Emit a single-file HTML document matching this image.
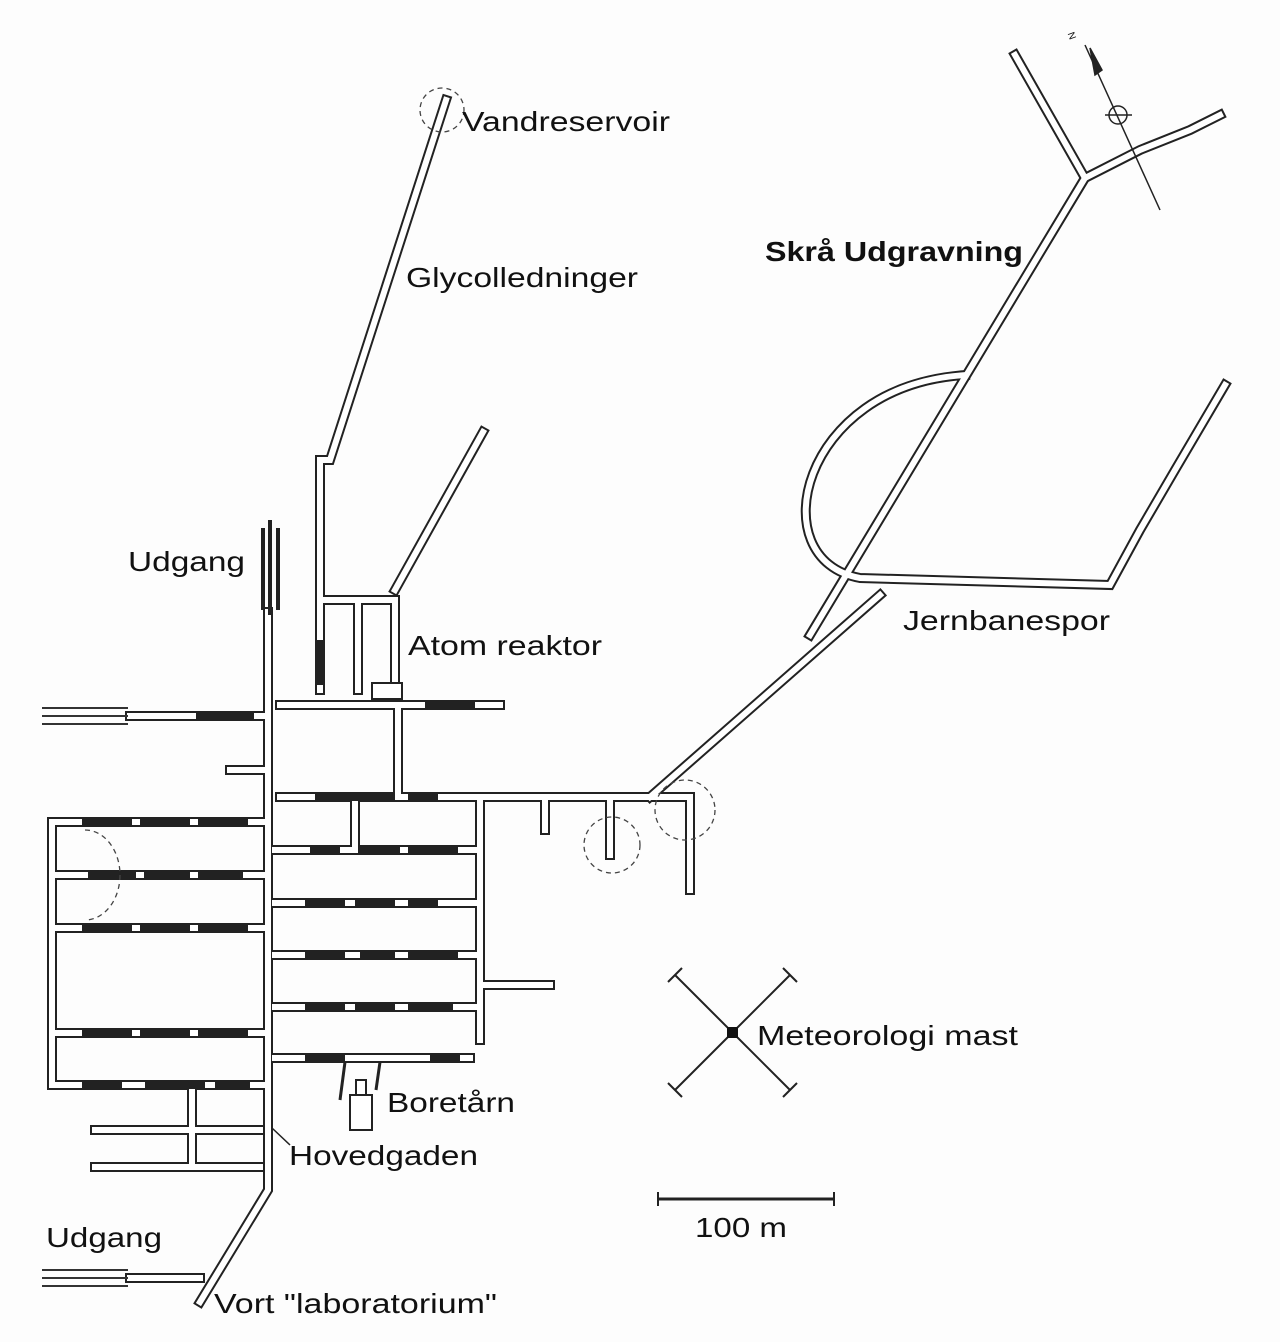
<!DOCTYPE html>
<html><head><meta charset="utf-8"><style>
html,body{margin:0;padding:0;background:#fff;}
svg{display:block}
text{font-family:"Liberation Sans",sans-serif;fill:#111;}
</style></head><body>
<svg width="1280" height="1342" viewBox="0 0 1280 1342" xmlns="http://www.w3.org/2000/svg">
<rect width="1280" height="1342" fill="#fdfdfd"/>
<g fill="none" stroke-linejoin="miter" stroke-linecap="square">
<g id="t" stroke="#222" stroke-width="10">
<polyline points="268,612 268,1190 200,1302"/>
<polyline points="320,690 320,460 330,460 446,100"/>
<polyline points="395,590 483,432"/>
<polyline points="280,705 500,705"/>
<polyline points="280,797 690,797 690,890"/>
<polyline points="398,705 398,797"/>
<polyline points="358,600 358,690"/>
<polyline points="325,600 395,600 395,690"/>
<polyline points="650,797 880,595"/>
<polyline points="810,635 1085,178 1015,55"/>
<polyline points="1085,178 1140,150 1190,130 1220,115"/>
<path d="M965,375 C800,385 760,560 860,578 L1110,585 L1140,530 L1175,470 L1225,385"/>
<polyline points="130,716 262,716"/>
<polyline points="52,822 262,822"/>
<polyline points="52,875 262,875"/>
<polyline points="52,928 262,928"/>
<polyline points="52,1033 262,1033"/>
<polyline points="52,1085 262,1085"/>
<polyline points="52,822 52,1085"/>
<polyline points="95,1130 260,1130"/>
<polyline points="95,1167 260,1167"/>
<polyline points="192,1090 192,1167"/>
<polyline points="130,1278 200,1278"/>
<polyline points="275,850 480,850"/>
<polyline points="275,903 480,903"/>
<polyline points="275,955 480,955"/>
<polyline points="275,1007 480,1007"/>
<polyline points="275,1058 470,1058"/>
<polyline points="480,797 480,1040"/>
<polyline points="480,985 550,985"/>
<polyline points="355,797 355,850"/>
<polyline points="545,797 545,830"/>
<polyline points="610,797 610,855"/>
<polyline points="230,770 262,770"/>
</g>
</g>
<g stroke="#fff" stroke-width="6" fill="none" stroke-linecap="square">
<polyline points="268,612 268,1190 200,1302"/>
<polyline points="320,690 320,460 330,460 446,100"/>
<polyline points="395,590 483,432"/>
<polyline points="280,705 500,705"/>
<polyline points="280,797 690,797 690,890"/>
<polyline points="398,705 398,797"/>
<polyline points="358,600 358,690"/>
<polyline points="325,600 395,600 395,690"/>
<polyline points="650,797 880,595"/>
<polyline points="810,635 1085,178 1015,55"/>
<polyline points="1085,178 1140,150 1190,130 1220,115"/>
<path d="M965,375 C800,385 760,560 860,578 L1110,585 L1140,530 L1175,470 L1225,385"/>
<polyline points="130,716 262,716"/>
<polyline points="52,822 262,822"/>
<polyline points="52,875 262,875"/>
<polyline points="52,928 262,928"/>
<polyline points="52,1033 262,1033"/>
<polyline points="52,1085 262,1085"/>
<polyline points="52,822 52,1085"/>
<polyline points="95,1130 260,1130"/>
<polyline points="95,1167 260,1167"/>
<polyline points="192,1090 192,1167"/>
<polyline points="130,1278 200,1278"/>
<polyline points="275,850 480,850"/>
<polyline points="275,903 480,903"/>
<polyline points="275,955 480,955"/>
<polyline points="275,1007 480,1007"/>
<polyline points="275,1058 470,1058"/>
<polyline points="480,797 480,1040"/>
<polyline points="480,985 550,985"/>
<polyline points="355,797 355,850"/>
<polyline points="545,797 545,830"/>
<polyline points="610,797 610,855"/>
<polyline points="230,770 262,770"/>
</g>
<g fill="#222">
<rect x="196" y="712" width="58" height="8"/>
<rect x="425" y="701" width="50" height="8"/>
<rect x="315" y="793" width="80" height="8"/><rect x="408" y="793" width="30" height="8"/>
<rect x="82" y="818" width="50" height="8"/><rect x="140" y="818" width="50" height="8"/><rect x="198" y="818" width="50" height="8"/>
<rect x="88" y="871" width="48" height="8"/><rect x="144" y="871" width="46" height="8"/><rect x="198" y="871" width="45" height="8"/>
<rect x="82" y="924" width="50" height="8"/><rect x="140" y="924" width="50" height="8"/><rect x="198" y="924" width="50" height="8"/>
<rect x="82" y="1029" width="50" height="8"/><rect x="140" y="1029" width="50" height="8"/><rect x="198" y="1029" width="50" height="8"/>
<rect x="82" y="1081" width="40" height="8"/><rect x="145" y="1081" width="60" height="8"/><rect x="215" y="1081" width="35" height="8"/>
<rect x="310" y="846" width="30" height="8"/><rect x="358" y="846" width="42" height="8"/><rect x="408" y="846" width="50" height="8"/>
<rect x="305" y="899" width="40" height="8"/><rect x="355" y="899" width="40" height="8"/><rect x="408" y="899" width="30" height="8"/>
<rect x="305" y="951" width="40" height="8"/><rect x="360" y="951" width="35" height="8"/><rect x="408" y="951" width="50" height="8"/>
<rect x="305" y="1003" width="40" height="8"/><rect x="355" y="1003" width="40" height="8"/><rect x="408" y="1003" width="45" height="8"/>
<rect x="305" y="1054" width="40" height="8"/><rect x="430" y="1054" width="30" height="8"/>
<rect x="316" y="640" width="8" height="45"/>
<rect x="261" y="528" width="4" height="82"/><rect x="268" y="520" width="4" height="95"/><rect x="276" y="528" width="4" height="82"/>
</g>
<g stroke="#333" stroke-width="2">
<line x1="42" y1="708" x2="128" y2="708"/><line x1="42" y1="716" x2="128" y2="716"/><line x1="42" y1="724" x2="128" y2="724"/>
<line x1="42" y1="1270" x2="128" y2="1270"/><line x1="42" y1="1278" x2="128" y2="1278"/><line x1="42" y1="1286" x2="128" y2="1286"/>
</g>
<g fill="none" stroke="#444" stroke-width="1.3" stroke-dasharray="5,4">
<circle cx="442" cy="110" r="22"/>
<circle cx="612" cy="845" r="28"/>
<circle cx="685" cy="810" r="30"/>
<path d="M85,830 A35,45 0 0 1 85,920"/>
</g>
<path d="M350,1095 L372,1095 L372,1130 L350,1130 Z M356,1080 L366,1080 L366,1095 L356,1095Z" fill="#fff" stroke="#222" stroke-width="2"/>
<line x1="345" y1="1062" x2="340" y2="1100" stroke="#222" stroke-width="3"/>
<line x1="380" y1="1062" x2="376" y2="1090" stroke="#222" stroke-width="3"/>
<rect x="372" y="683" width="30" height="16" fill="#fff" stroke="#222" stroke-width="2"/>
<g stroke="#222" stroke-width="2">
<line x1="675" y1="975" x2="790" y2="1090"/><line x1="790" y1="975" x2="675" y2="1090"/>
<line x1="668" y1="982" x2="682" y2="968"/><line x1="783" y1="968" x2="797" y2="982"/>
<line x1="668" y1="1083" x2="682" y2="1097"/><line x1="783" y1="1097" x2="797" y2="1083"/>
</g>
<rect x="727" y="1027" width="11" height="11" fill="#111"/>
<g stroke="#222" stroke-width="3"><line x1="658" y1="1199" x2="834" y2="1199"/></g>
<g stroke="#222" stroke-width="2"><line x1="658" y1="1192" x2="658" y2="1206"/><line x1="834" y1="1192" x2="834" y2="1206"/></g>
<g stroke="#222" stroke-width="1.5" fill="none">
<line x1="1085" y1="45" x2="1160" y2="210"/>
<circle cx="1118" cy="115" r="9"/>
<line x1="1105" y1="115" x2="1132" y2="115"/>
<path d="M1095,75 L1090,48 L1102,70 Z" fill="#222"/>
</g>
<text x="1070" y="38" font-size="10" transform="rotate(70 1072 34)">N</text>
<g font-size="28" lengthAdjust="spacingAndGlyphs">
<text x="462" y="131" textLength="208" lengthAdjust="spacingAndGlyphs">Vandreservoir</text>
<text x="406" y="287" textLength="232" lengthAdjust="spacingAndGlyphs">Glycolledninger</text>
<text x="765" y="261" font-weight="bold" textLength="258" lengthAdjust="spacingAndGlyphs">Skrå Udgravning</text>
<text x="128" y="571" textLength="117" lengthAdjust="spacingAndGlyphs">Udgang</text>
<text x="408" y="655" textLength="194" lengthAdjust="spacingAndGlyphs">Atom reaktor</text>
<text x="903" y="630" textLength="207" lengthAdjust="spacingAndGlyphs">Jernbanespor</text>
<text x="757" y="1045" textLength="261" lengthAdjust="spacingAndGlyphs">Meteorologi mast</text>
<text x="387" y="1112" textLength="128" lengthAdjust="spacingAndGlyphs">Boretårn</text>
<text x="289" y="1165" textLength="189" lengthAdjust="spacingAndGlyphs">Hovedgaden</text>
<text x="695" y="1237" textLength="92" lengthAdjust="spacingAndGlyphs">100 m</text>
<text x="46" y="1247" textLength="116" lengthAdjust="spacingAndGlyphs">Udgang</text>
<text x="214" y="1313" textLength="283" lengthAdjust="spacingAndGlyphs">Vort "laboratorium"</text>
</g>
<line x1="272" y1="1128" x2="290" y2="1145" stroke="#222" stroke-width="1.5"/>
</svg>
</body></html>
